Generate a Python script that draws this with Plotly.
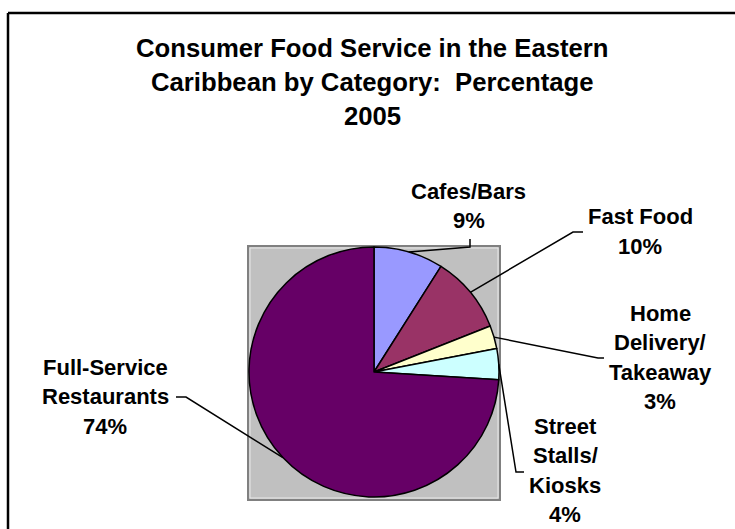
import math
import plotly.graph_objects as go

# ---- data ----
categories = ["Cafes/Bars", "Fast Food", "Home Delivery/Takeaway",
              "Street Stalls/Kiosks", "Full-Service Restaurants"]
label_lines = [["Cafes/Bars"], ["Fast Food"], ["Home", "Delivery/", "Takeaway"],
               ["Street", "Stalls/", "Kiosks"], ["Full-Service", "Restaurants"]]
shares = [9, 10, 3, 4, 74]
colors = ["#9999FF", "#993366", "#FFFFCC", "#CCFFFF", "#660066"]
title_lines = ["Consumer Food Service in the Eastern",
               "Caribbean by Category:\u00a0 Percentage",
               "2005"]

W, H = 735, 529
FONT = "Arial, Liberation Sans, sans-serif"


def px(x):
    return x / W


def py(y):
    return 1 - y / H


# pie placement (pixels)
cx, cy, r = 374, 372, 125

fig = go.Figure(go.Pie(
    labels=categories, values=shares, sort=False, direction="clockwise",
    rotation=0, textinfo="none", hoverinfo="label+percent",
    marker=dict(colors=colors, line=dict(color="black", width=1.5)),
    domain=dict(x=[px(cx - r), px(cx + r)], y=[py(cy + r), py(cy - r)]),
    showlegend=False,
))

shapes = []
# chart frame (left and top edges)
shapes.append(dict(type="line", xref="paper", yref="paper", x0=px(8), x1=px(8),
                   y0=py(13), y1=py(H + 2), line=dict(color="black", width=2.5)))
shapes.append(dict(type="line", xref="paper", yref="paper", x0=px(8), x1=px(W + 2),
                   y0=py(13), y1=py(13), line=dict(color="black", width=2.5)))
# grey plot area behind the pie
shapes.append(dict(type="rect", xref="paper", yref="paper", layer="below",
                   x0=px(248), x1=px(500), y0=py(500), y1=py(246),
                   fillcolor="#C0C0C0", line=dict(color="#808080", width=2)))
shapes.append(dict(type="rect", xref="paper", yref="paper", layer="below",
                   x0=px(250), x1=px(498), y0=py(498), y1=py(248),
                   fillcolor="rgba(0,0,0,0)", line=dict(color="#E8E8E8", width=1)))

# label layout: line centres (x, first-line y), leader elbow and end points
label_pos = [(469, 191), (640, 217), (660, 313), (565, 426), (105, 367)]
leader_pts = [[(470, 247), (470, 239)],
              [(573, 232), (583, 232)],
              [(598, 358), (604, 358)],
              [(516, 472), (524, 472)],
              [(186, 397), (176, 397)]]
LINE_GAP = 29.5

total = sum(shares)
cum = 0
annotations = []
for i, v in enumerate(shares):
    mid = (cum + v / 2) / total * 2 * math.pi
    cum += v
    ex, ey = cx + r * math.sin(mid), cy - r * math.cos(mid)
    pts = [(ex, ey)] + leader_pts[i]
    path = "M " + " L ".join(f"{px(x)},{py(y)}" for x, y in pts)
    shapes.append(dict(type="path", xref="paper", yref="paper", path=path,
                       line=dict(color="black", width=1.5)))
    lines = label_lines[i] + [f"{round(v / total * 100)}%"]
    lx, ly = label_pos[i]
    for k, t in enumerate(lines):
        annotations.append(dict(text=f"<b>{t}</b>", x=px(lx), y=py(ly + k * LINE_GAP),
                                xref="paper", yref="paper", showarrow=False,
                                xanchor="center", yanchor="middle",
                                font=dict(family=FONT, size=22, color="black")))

for k, t in enumerate(title_lines):
    annotations.append(dict(text=f"<b>{t}</b>", x=px(372), y=py(48 + k * 34),
                            xref="paper", yref="paper", showarrow=False,
                            xanchor="center", yanchor="middle",
                            font=dict(family=FONT, size=25.7, color="black")))

fig.update_layout(
    width=W, height=H, margin=dict(l=0, r=0, t=0, b=0),
    paper_bgcolor="white", plot_bgcolor="white",
    shapes=shapes, annotations=annotations,
)

fig.write_html("out.html")
